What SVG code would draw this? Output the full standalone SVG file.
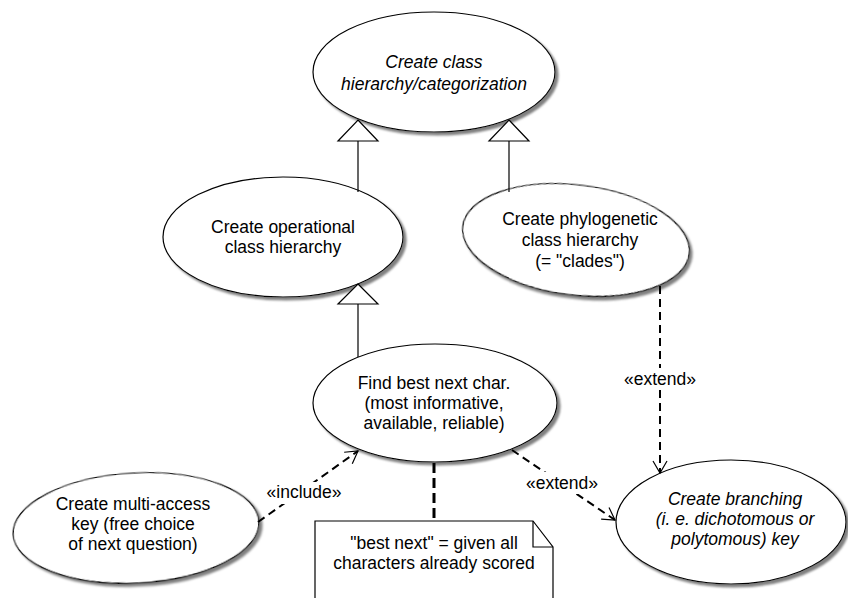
<svg xmlns="http://www.w3.org/2000/svg" width="848" height="598" viewBox="0 0 848 598">
<defs>
<filter id="sh" x="-10%" y="-10%" width="125%" height="130%">
<feDropShadow dx="3" dy="3" stdDeviation="1" flood-color="#808080" flood-opacity="1"/>
</filter>
<marker id="open" markerUnits="userSpaceOnUse" markerWidth="16" markerHeight="16" refX="13" refY="8" orient="auto">
<path d="M1,1 L13,8 L1,15" fill="none" stroke="#000" stroke-width="1.2"/>
</marker>
</defs>
<style>
.uc{fill:#fff;stroke:#000;stroke-width:1.2;filter:url(#sh)}
.t{font-family:"Liberation Sans",Arial,sans-serif;font-size:17.5px;fill:#000;text-anchor:middle}
.i{font-style:italic}
.gen{fill:none;stroke:#000;stroke-width:1.2}
.tri{fill:#fff;stroke:#000;stroke-width:1.2}
.dep{fill:none;stroke:#000;stroke-width:2;stroke-dasharray:8,5}
.lbl{fill:#fff}
</style>
<g id="n-top">
<ellipse class="uc" cx="434" cy="72" rx="121" ry="60"/>
<text class="t i" x="434" y="68">Create class</text>
<text class="t i" x="434" y="90">hierarchy/categorization</text>
</g>
<g id="n-oper">
<ellipse class="uc" cx="283" cy="237" rx="120" ry="60"/>
<text class="t" x="283" y="233">Create operational</text>
<text class="t" x="283" y="253">class hierarchy</text>
</g>
<g id="n-phylo">
<ellipse class="uc" cx="0" cy="0" rx="114" ry="55" transform="translate(576,240) rotate(7)"/>
<text class="t" x="580" y="225">Create phylogenetic</text>
<text class="t" x="580" y="246">class hierarchy</text>
<text class="t" x="580" y="267">(= "clades")</text>
</g>
<g id="n-find">
<ellipse class="uc" cx="435" cy="403" rx="122" ry="59"/>
<text class="t" x="434" y="389">Find best next char.</text>
<text class="t" x="434" y="409">(most informative,</text>
<text class="t" x="434" y="429">available, reliable)</text>
</g>
<g id="n-multi">
<ellipse class="uc" cx="0" cy="0" rx="123" ry="55" transform="translate(136,528) rotate(-3)"/>
<text class="t" x="133" y="510">Create multi-access</text>
<text class="t" x="133" y="530">key (free choice</text>
<text class="t" x="133" y="550">of next question)</text>
</g>
<g id="n-branch">
<ellipse class="uc" cx="731" cy="522" rx="115" ry="62"/>
<text class="t i" x="735" y="505">Create branching</text>
<text class="t i" x="735" y="525">(i. e. dichotomous or</text>
<text class="t i" x="735" y="545">polytomous) key</text>
</g>
<g id="n-note">
<path d="M315,598 L315,521 L533,521 L553,547 L553,598" fill="#fff" stroke="#000" stroke-width="1.2"/>
<path d="M533,521 L533,547 L553,547" fill="none" stroke="#000" stroke-width="1.2"/>
<text class="t" x="434" y="549">"best next" = given all</text>
<text class="t" x="434" y="569">characters already scored</text>
</g>
<g id="connectors">
<line class="gen" x1="358" y1="141" x2="358" y2="192"/>
<path class="tri" d="M358,120 L378,141 L338,141 Z"/>
<line class="gen" x1="509" y1="141" x2="509" y2="192"/>
<path class="tri" d="M509,120 L529,141 L489,141 Z"/>
<line class="gen" x1="358" y1="304" x2="358" y2="357"/>
<path class="tri" d="M358,284 L378,304 L338,304 Z"/>
<line class="dep" x1="258" y1="522" x2="358" y2="451" marker-end="url(#open)"/>
<line class="dep" x1="512" y1="450" x2="615" y2="520" marker-end="url(#open)"/>
<line class="dep" x1="660" y1="286" x2="660" y2="473" marker-end="url(#open)"/>
<line x1="434" y1="463" x2="434" y2="521" stroke="#000" stroke-width="3" stroke-dasharray="10,5"/>
<rect class="lbl" x="266" y="482" width="77" height="22"/>
<text class="t" x="304" y="498">«include»</text>
<rect class="lbl" x="525" y="472" width="74" height="22"/>
<text class="t" x="562" y="489">«extend»</text>
<rect class="lbl" x="623" y="368" width="74" height="22"/>
<text class="t" x="660" y="385">«extend»</text>
</g>
</svg>
